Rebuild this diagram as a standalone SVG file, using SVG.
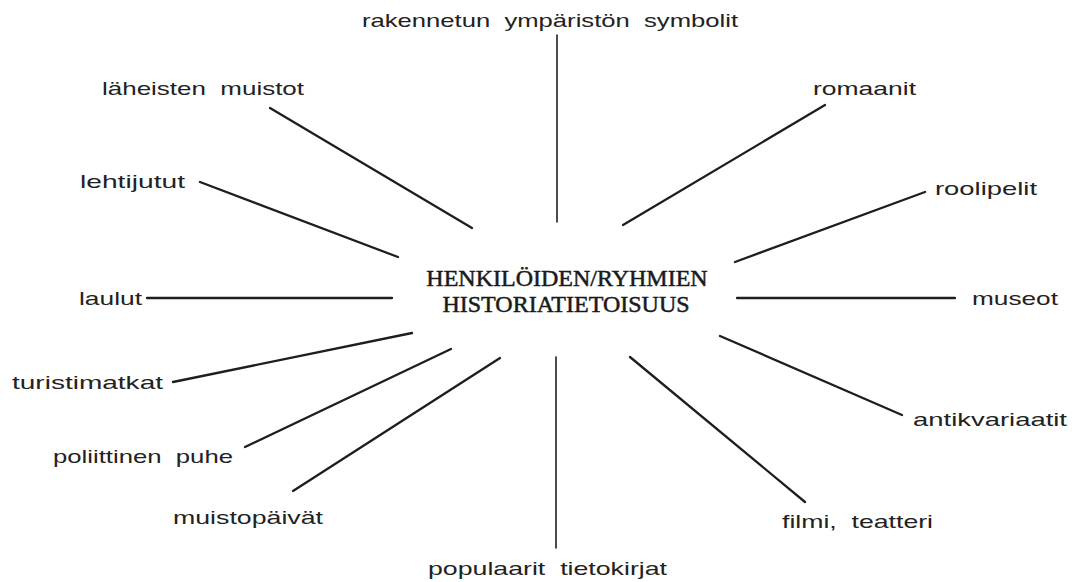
<svg xmlns="http://www.w3.org/2000/svg" width="1076" height="582" viewBox="0 0 1076 582">
<style>
.lbl{font-family:"Liberation Sans",Arial,sans-serif;font-size:19px;fill:#222;white-space:pre}
.ctr{font-family:"Liberation Serif","Times New Roman",serif;font-size:24px;fill:#1a1a1a;stroke:#1a1a1a;stroke-width:0.5;text-anchor:middle}
.c line{stroke:#1e1e1e;stroke-width:2.3;stroke-linecap:round}
.c line.v{stroke-width:1.6}
</style>
<rect width="1076" height="582" fill="#fff"/>
<g id="center">
<text class="ctr" x="567" y="286">HENKILÖIDEN/RYHMIEN</text>
<text class="ctr" x="566" y="312">HISTORIATIETOISUUS</text>
</g>
<g id="n-rakennetun"><text class="lbl" xml:space="preserve" x="362" y="27" textLength="376" lengthAdjust="spacingAndGlyphs">rakennetun  ympäristön  symbolit</text></g>
<g id="n-laheisten"><text class="lbl" xml:space="preserve" x="102" y="95" textLength="202" lengthAdjust="spacingAndGlyphs">läheisten  muistot</text></g>
<g id="n-lehtijutut"><text class="lbl" x="80" y="188" textLength="105" lengthAdjust="spacingAndGlyphs">lehtijutut</text></g>
<g id="n-laulut"><text class="lbl" x="79" y="305" textLength="63" lengthAdjust="spacingAndGlyphs">laulut</text></g>
<g id="n-turistimatkat"><text class="lbl" x="12" y="389" textLength="151" lengthAdjust="spacingAndGlyphs">turistimatkat</text></g>
<g id="n-poliittinen"><text class="lbl" xml:space="preserve" x="53" y="463" textLength="180" lengthAdjust="spacingAndGlyphs">poliittinen  puhe</text></g>
<g id="n-muistopaivat"><text class="lbl" x="173" y="524" textLength="150" lengthAdjust="spacingAndGlyphs">muistopäivät</text></g>
<g id="n-populaarit"><text class="lbl" xml:space="preserve" x="428" y="575" textLength="239" lengthAdjust="spacingAndGlyphs">populaarit  tietokirjat</text></g>
<g id="n-filmi"><text class="lbl" xml:space="preserve" x="782" y="528" textLength="151" lengthAdjust="spacingAndGlyphs">filmi,  teatteri</text></g>
<g id="n-antikvariaatit"><text class="lbl" x="913" y="426" textLength="154" lengthAdjust="spacingAndGlyphs">antikvariaatit</text></g>
<g id="n-museot"><text class="lbl" x="972" y="305" textLength="86" lengthAdjust="spacingAndGlyphs">museot</text></g>
<g id="n-roolipelit"><text class="lbl" x="935" y="195" textLength="102" lengthAdjust="spacingAndGlyphs">roolipelit</text></g>
<g id="n-romaanit"><text class="lbl" x="813" y="95" textLength="103" lengthAdjust="spacingAndGlyphs">romaanit</text></g>
<g id="connectors" class="c">
<line class="v" x1="557" y1="35" x2="557" y2="222"/>
<line x1="270" y1="108" x2="472" y2="228"/>
<line x1="200" y1="182" x2="398" y2="257"/>
<line x1="147" y1="298" x2="392" y2="298"/>
<line x1="173" y1="382" x2="412" y2="333"/>
<line x1="245" y1="447" x2="451" y2="349"/>
<line x1="293" y1="491" x2="500" y2="358"/>
<line class="v" x1="556" y1="357" x2="556" y2="548"/>
<line x1="630" y1="357" x2="805" y2="502"/>
<line x1="720" y1="336" x2="902" y2="415"/>
<line x1="737" y1="298" x2="955" y2="298"/>
<line x1="735" y1="262" x2="925" y2="192"/>
<line x1="623" y1="225" x2="825" y2="105"/>
</g>
</svg>
